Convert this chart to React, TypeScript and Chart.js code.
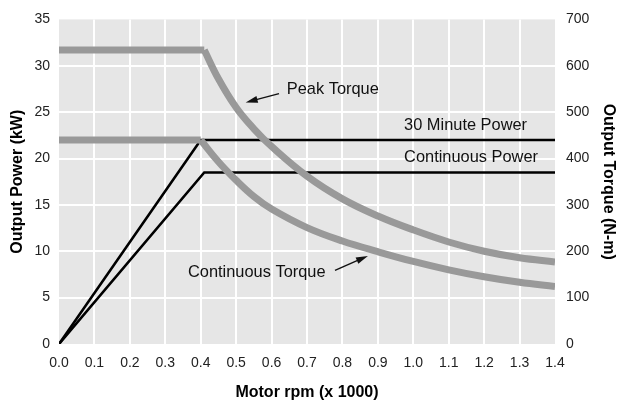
import React, { useEffect, useRef } from 'react';
import { Chart, registerables } from 'chart.js';

Chart.register(...registerables);

// ---- Data (rpm in thousands, power in kW, torque in N-m) ----
const power30Rpm = [0, 0.4, 1.4];
const power30Kw = [0, 22, 22];

const powerContRpm = [0, 0.41, 1.4];
const powerContKw = [0, 18.5, 18.5];

const peakFlatRpm = [0, 0.41];
const peakFlatNm = [634, 634];
const peakCurveRpm = [0.41, 0.45, 0.5, 0.55, 0.6, 0.7, 0.8, 0.9, 1.0, 1.1, 1.2, 1.3, 1.4];
const peakCurveNm = [634, 572, 510, 464, 426, 362, 313, 276, 246, 220, 200, 186, 177];

const contFlatRpm = [0, 0.4];
const contFlatNm = [440, 440];
const contCurveRpm = [0.4, 0.45, 0.5, 0.55, 0.6, 0.7, 0.8, 0.9, 1.0, 1.1, 1.2, 1.3, 1.4];
const contCurveNm = [440, 393, 353, 318, 291, 251, 222, 199, 178, 160, 145, 133, 124];

const xTitle = 'Motor rpm (x 1000)';
const yLeftTitle = 'Output Power (kW)';
const yRightTitle = 'Output Torque (N-m)';

const labelPeakTorque = 'Peak Torque';
const label30Min = '30 Minute Power';
const labelContPower = 'Continuous Power';
const labelContTorque = 'Continuous Torque';

const pts = (xs: number[], ys: number[]) => xs.map((x, i) => ({ x, y: ys[i] }));

const FONT = '"Liberation Sans", Arial, sans-serif';
const GRAY = '#999999';

export default function App() {
  const ref = useRef<HTMLCanvasElement | null>(null);

  useEffect(() => {
    document.body.style.margin = '0';
    const canvas = ref.current;
    if (!canvas) return;

    const bgPlugin = {
      id: 'plotBg',
      beforeDraw(chart: any) {
        const { ctx, chartArea } = chart;
        ctx.save();
        ctx.fillStyle = '#e6e6e6';
        ctx.fillRect(chartArea.left, chartArea.top, chartArea.right - chartArea.left, chartArea.bottom - chartArea.top);
        ctx.restore();
      },
    };

    const annPlugin = {
      id: 'ann',
      afterDraw(chart: any) {
        const { ctx } = chart;
        const xs = chart.scales.x;
        const ys = chart.scales.y;
        const px = (v: number) => xs.getPixelForValue(v);
        const py = (v: number) => ys.getPixelForValue(v);
        ctx.save();
        ctx.fillStyle = '#111';
        ctx.font = `16.4px ${FONT}`;
        ctx.textBaseline = 'middle';
        ctx.textAlign = 'left';
        ctx.fillText(labelPeakTorque, px(0.643), py(27.46));
        ctx.fillText(label30Min, px(0.974), py(23.6));
        ctx.fillText(labelContPower, px(0.974), py(20.06));
        ctx.fillText(labelContTorque, px(0.364), py(7.68));

        const arrow = (x1: number, y1: number, x2: number, y2: number) => {
          const ax = px(x1), ay = py(y1), bx = px(x2), by = py(y2);
          const ang = Math.atan2(by - ay, bx - ax);
          const len = 12, hw = 3.4;
          const baseX = bx - Math.cos(ang) * len;
          const baseY = by - Math.sin(ang) * len;
          ctx.strokeStyle = '#111';
          ctx.lineWidth = 1.4;
          ctx.beginPath();
          ctx.moveTo(ax, ay);
          ctx.lineTo(baseX + Math.cos(ang) * 2, baseY + Math.sin(ang) * 2);
          ctx.stroke();
          ctx.beginPath();
          ctx.moveTo(bx, by);
          ctx.lineTo(baseX - Math.sin(ang) * hw, baseY + Math.cos(ang) * hw);
          ctx.lineTo(baseX + Math.sin(ang) * hw, baseY - Math.cos(ang) * hw);
          ctx.closePath();
          ctx.fillStyle = '#111';
          ctx.fill();
        };
        arrow(0.621, 27.0, 0.527, 26.04);
        arrow(0.779, 7.95, 0.872, 9.5);
        ctx.restore();
      },
    };

    const gridColor = (ctx: any) => {
      const n = ctx.scale.ticks.length;
      return ctx.index === 0 || ctx.index === n - 1 ? 'rgba(0,0,0,0)' : '#ffffff';
    };

    const grayLine = (data: any[], curved: boolean) => ({
      data,
      yAxisID: 'y1',
      borderColor: GRAY,
      backgroundColor: GRAY,
      borderWidth: 7,
      pointRadius: 0,
      fill: false,
      tension: curved ? 0.4 : 0,
      borderCapStyle: 'butt',
      borderJoinStyle: 'round',
      order: 0,
    });
    const blackLine = (data: any[]) => ({
      data,
      yAxisID: 'y',
      borderColor: '#000000',
      backgroundColor: '#000000',
      borderWidth: 2.6,
      pointRadius: 0,
      fill: false,
      tension: 0,
      borderJoinStyle: 'miter',
      order: 1,
    });

    const chart = new Chart(canvas, {
      type: 'line',
      data: {
        datasets: [
          grayLine(pts(peakFlatRpm, peakFlatNm), false),
          grayLine(pts(peakCurveRpm, peakCurveNm), true),
          grayLine(pts(contFlatRpm, contFlatNm), false),
          grayLine(pts(contCurveRpm, contCurveNm), true),
          blackLine(pts(power30Rpm, power30Kw)),
          blackLine(pts(powerContRpm, powerContKw)),
        ] as any,
      },
      options: {
        animation: false,
        responsive: true,
        maintainAspectRatio: false,
        layout: { padding: { top: 16, left: 0, right: 0, bottom: 0 } },
        plugins: {
          legend: { display: false },
          tooltip: { enabled: false },
        },
        scales: {
          x: {
            type: 'linear',
            min: 0,
            max: 1.4,
            afterFit: (s: any) => { s.height = 62; },
            border: { display: false },
            grid: { color: gridColor, lineWidth: 2, drawTicks: false },
            ticks: {
              stepSize: 0.1,
              padding: 11,
              color: '#222',
              font: { family: FONT, size: 14 },
              callback: (v: any) => Number(v).toFixed(1),
              maxRotation: 0,
              autoSkip: false,
            },
            title: {
              display: true,
              text: xTitle,
              color: '#000',
              font: { family: FONT, size: 16, weight: 'bold' },
              padding: { top: 0, bottom: 4 },
            },
          },
          y: {
            type: 'linear',
            position: 'left',
            min: 0,
            max: 35,
            afterFit: (s: any) => { s.width = 59; },
            border: { display: false },
            grid: { color: gridColor, lineWidth: 2, drawTicks: false },
            ticks: {
              stepSize: 5,
              padding: 9,
              color: '#222',
              font: { family: FONT, size: 14 },
            },
            title: {
              display: true,
              text: yLeftTitle,
              color: '#000',
              font: { family: FONT, size: 16, weight: 'bold' },
              padding: { top: 8, bottom: 0 },
            },
          },
          y1: {
            type: 'linear',
            position: 'right',
            min: 0,
            max: 700,
            afterFit: (s: any) => { s.width = 63; },
            border: { display: false },
            grid: { display: false, drawTicks: false },
            ticks: {
              stepSize: 100,
              padding: 11,
              color: '#222',
              font: { family: FONT, size: 14 },
            },
            title: {
              display: true,
              text: yRightTitle,
              color: '#000',
              font: { family: FONT, size: 16, weight: 'bold' },
              padding: { top: 0, bottom: 0 },
            },
          },
        },
      } as any,
      plugins: [bgPlugin, annPlugin],
    });

    return () => chart.destroy();
  }, []);

  return (
    <div style={{ position: 'relative', width: '618px', height: '406px' }}>
      <canvas ref={ref} />
    </div>
  );
}
